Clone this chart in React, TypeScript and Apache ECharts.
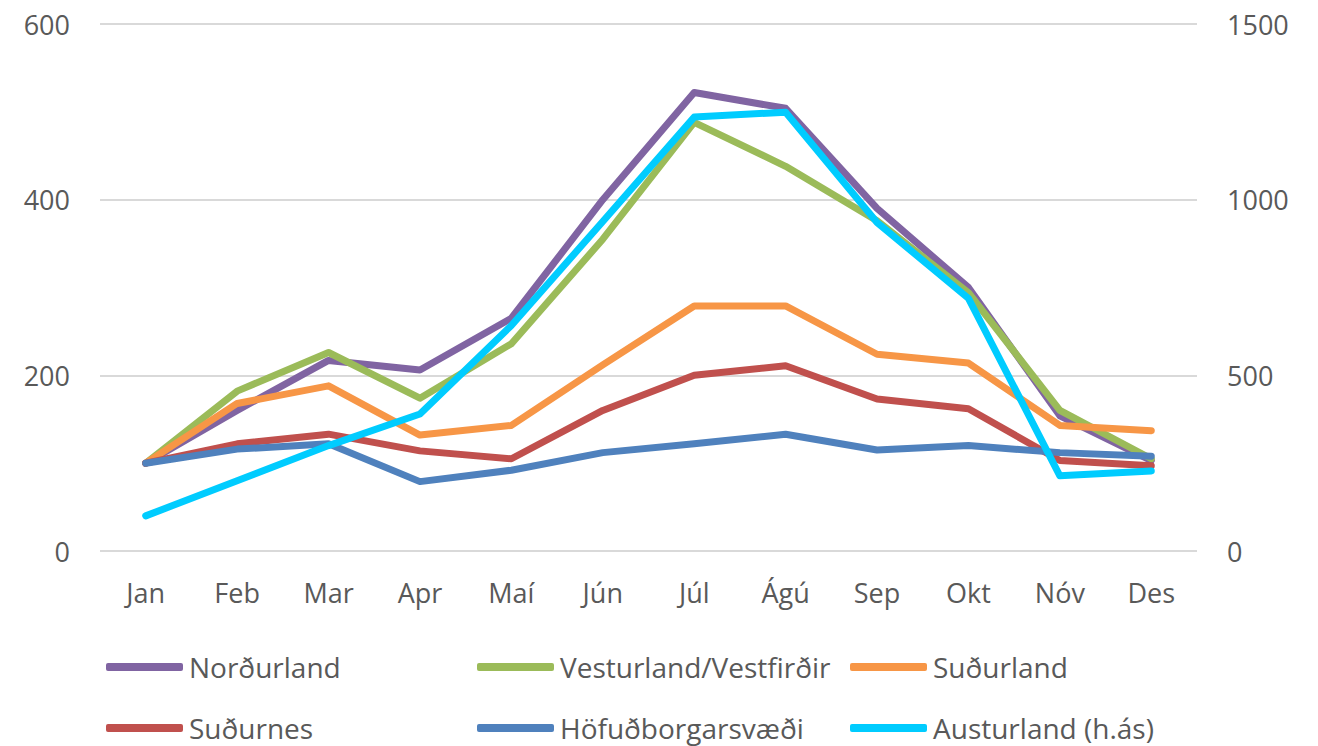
import React, { useEffect, useRef } from "react";
import * as echarts from "echarts";

const categories = ["Jan", "Feb", "Mar", "Apr", "Maí", "Jún", "Júl", "Ágú", "Sep", "Okt", "Nóv", "Des"];
const nordurland = [100, 160, 217, 206, 265, 400, 522, 504, 390, 300, 154, 103];
const vesturland = [100, 182, 226, 174, 236, 355, 488, 438, 376, 294, 160, 105];
const sudurland = [100, 168, 188, 132, 143, 212, 279, 279, 224, 214, 143, 137];
const sudurnes = [100, 122, 133, 114, 105, 160, 200, 211, 173, 162, 103, 97];
const hofudborg = [100, 116, 122, 79, 92, 112, 122, 133, 115, 120, 112, 108];
const austurland = [100, 200, 300, 390, 642, 938, 1235, 1249, 935, 719, 214, 228];
const leftTicks = [0, 200, 400, 600];
const rightTicks = [0, 500, 1000, 1500];

const FONT = "'Open Sans', sans-serif";
const GRAY = "#595959";

export default function App() {
  const ref = useRef<HTMLDivElement>(null);
  useEffect(() => {
    document.body.style.margin = "0";
    const chart = echarts.init(ref.current!, undefined, { renderer: "svg" });
    const mk = (name: string, data: number[], color: string, yAxisIndex = 0) => ({
      name,
      type: "line",
      data,
      yAxisIndex,
      symbol: "none",
      lineStyle: { color, width: 7, cap: "round", join: "round" },
      itemStyle: { color },
    });
    const series = [
      mk("Norðurland", nordurland, "#8064A2"),
      mk("Vesturland/Vestfirðir", vesturland, "#9BBB59"),
      mk("Suðurland", sudurland, "#F79646"),
      mk("Suðurnes", sudurnes, "#C0504D"),
      mk("Höfuðborgarsvæði", hofudborg, "#4F81BD"),
      mk("Austurland (h.ás)", austurland, "#00CCFF", 1),
    ];
    const legendPos: [string, number, number][] = [
      ["Norðurland", 106, 667],
      ["Vesturland/Vestfirðir", 477, 667],
      ["Suðurland", 850, 667],
      ["Suðurnes", 106, 728],
      ["Höfuðborgarsvæði", 477, 728],
      ["Austurland (h.ás)", 850, 728],
    ];
    const legend = legendPos.map(([name, x, y]) => ({
      data: [name],
      left: x,
      top: y - 15,
      padding: 0,
      icon: "roundRect",
      itemWidth: 77,
      itemHeight: 8,
      textStyle: { fontFamily: FONT, fontSize: 28, color: GRAY, lineHeight: 30, padding: [0, 0, 0, 1] },
      selectedMode: false,
    }));
    chart.setOption({
      animation: false,
      backgroundColor: "#fff",
      grid: { left: 100, right: 121, top: 24, bottom: 195 },
      legend,
      xAxis: {
        type: "category",
        data: categories,
        boundaryGap: true,
        axisLine: { show: false },
        axisTick: { show: false },
        axisLabel: { fontFamily: FONT, fontSize: 27, color: GRAY, margin: 28 },
      },
      yAxis: [
        {
          type: "value",
          min: leftTicks[0],
          max: leftTicks[leftTicks.length - 1],
          interval: 200,
          axisLine: { show: false },
          axisTick: { show: false },
          splitLine: { lineStyle: { color: "#D9D9D9", width: 2 } },
          axisLabel: { fontFamily: FONT, fontSize: 27, color: GRAY, margin: 30, formatter: (v: number) => String(v) },
        },
        {
          type: "value",
          min: rightTicks[0],
          max: rightTicks[rightTicks.length - 1],
          interval: 500,
          axisLine: { show: false },
          axisTick: { show: false },
          splitLine: { show: false },
          axisLabel: { fontFamily: FONT, fontSize: 27, color: GRAY, margin: 30, formatter: (v: number) => String(v) },
        },
      ],
      series,
    });
    return () => chart.dispose();
  }, []);
  return <div ref={ref} style={{ width: 1318, height: 746 }} />;
}
